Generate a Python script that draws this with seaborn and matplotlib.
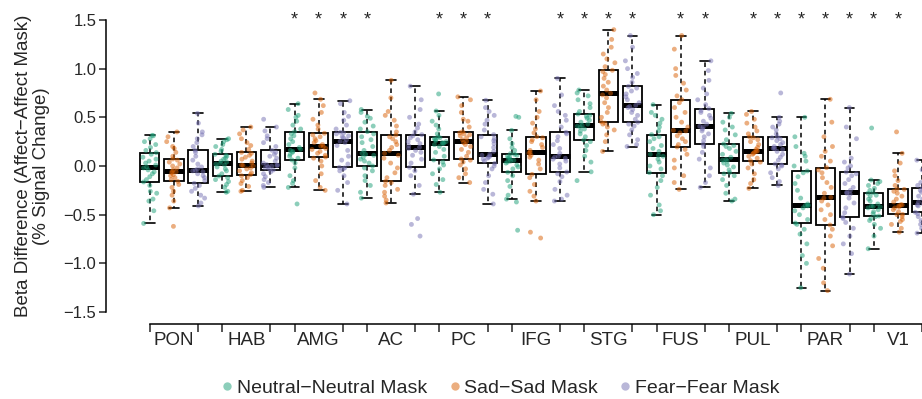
import numpy as np
import pandas as pd
import matplotlib
matplotlib.use("Agg")
import matplotlib.pyplot as plt
from matplotlib.lines import Line2D
from matplotlib.colors import to_rgba
import seaborn as sns

regions = ["PON", "HAB", "AMG", "AC", "PC", "IFG", "STG", "FUS", "PUL", "PAR", "V1"]
masks = ["Neutral−Neutral Mask", "Sad−Sad Mask", "Fear−Fear Mask"]
mask_colors = ["#1B9E77", "#D95F02", "#7570B3"]

# beta differences per subject (one list per region x mask)
pon_neutral = [-0.59, -0.46, -0.36, -0.34, -0.28, -0.26, -0.20, -0.164, -0.14, -0.11, -0.08, -0.06, -0.04, -0.02, -0.01,
               0.01, 0.03, 0.05, 0.07, 0.09, 0.12, 0.137, 0.16, 0.19, 0.22, 0.25, 0.28, 0.31, 0.315]
pon_sad = [-0.62, -0.43, -0.36, -0.30, -0.26, -0.22, -0.19, -0.158, -0.14, -0.12, -0.10, -0.09, -0.07, -0.06, -0.055,
           -0.04, -0.02, 0.00, 0.02, 0.04, 0.06, 0.072, 0.10, 0.14, 0.18, 0.20, 0.25, 0.30, 0.35]
pon_fear = [-0.41, -0.38, -0.33, -0.30, -0.26, -0.23, -0.20, -0.178, -0.15, -0.12, -0.10, -0.08, -0.06, -0.05, -0.045,
            -0.03, -0.01, 0.02, 0.06, 0.10, 0.14, 0.161, 0.20, 0.24, 0.28, 0.32, 0.35, 0.44, 0.54]
hab_neutral = [-0.27, -0.26, -0.22, -0.19, -0.16, -0.14, -0.12, -0.103, -0.08, -0.05, -0.03, -0.01, 0.01, 0.02, 0.027,
               0.04, 0.05, 0.07, 0.08, 0.10, 0.11, 0.12, 0.15, 0.17, 0.20, 0.22, 0.25, 0.27, 0.28]
hab_sad = [-0.26, -0.25, -0.21, -0.18, -0.15, -0.12, -0.10, -0.089, -0.07, -0.05, -0.03, -0.02, 0.00, 0.005, 0.01,
           0.03, 0.05, 0.07, 0.09, 0.11, 0.13, 0.14, 0.17, 0.21, 0.24, 0.28, 0.33, 0.37, 0.40]
hab_fear = [-0.22, -0.20, -0.17, -0.14, -0.11, -0.08, -0.06, -0.041, -0.03, -0.02, -0.01, 0.00, 0.005, 0.01, 0.014,
            0.03, 0.05, 0.08, 0.10, 0.12, 0.14, 0.161, 0.20, 0.24, 0.28, 0.31, 0.36, 0.40, 0.48]
amg_neutral = [-0.39, -0.22, -0.18, -0.15, -0.10, -0.02, 0.03, 0.062, 0.08, 0.10, 0.12, 0.14, 0.15, 0.16, 0.171,
               0.19, 0.22, 0.25, 0.28, 0.31, 0.33, 0.353, 0.38, 0.42, 0.46, 0.50, 0.52, 0.58, 0.64]
amg_sad = [-0.25, -0.22, -0.15, -0.08, 0.00, 0.05, 0.08, 0.092, 0.11, 0.13, 0.15, 0.17, 0.18, 0.20, 0.205,
           0.22, 0.24, 0.26, 0.28, 0.30, 0.32, 0.336, 0.38, 0.42, 0.48, 0.55, 0.62, 0.685, 0.75]
amg_fear = [-0.39, -0.25, -0.17, -0.10, -0.05, -0.03, -0.02, -0.014, 0.02, 0.06, 0.10, 0.16, 0.21, 0.24, 0.253,
            0.27, 0.29, 0.30, 0.31, 0.33, 0.34, 0.346, 0.38, 0.42, 0.47, 0.51, 0.55, 0.64, 0.67]
ac_neutral = [-0.33, -0.27, -0.20, -0.15, -0.10, -0.05, -0.02, 0.00, 0.03, 0.05, 0.07, 0.09, 0.11, 0.12, 0.13,
              0.16, 0.20, 0.24, 0.27, 0.30, 0.33, 0.353, 0.38, 0.41, 0.45, 0.49, 0.51, 0.55, 0.58]
ac_sad = [-0.38, -0.35, -0.31, -0.27, -0.24, -0.20, -0.17, -0.158, -0.12, -0.07, -0.02, 0.03, 0.08, 0.11, 0.13,
          0.16, 0.19, 0.22, 0.25, 0.28, 0.30, 0.318, 0.35, 0.41, 0.47, 0.52, 0.56, 0.70, 0.88]
ac_fear = [-0.72, -0.60, -0.54, -0.29, -0.20, -0.10, -0.05, -0.014, 0.03, 0.07, 0.11, 0.14, 0.16, 0.18, 0.192,
           0.21, 0.23, 0.25, 0.27, 0.29, 0.31, 0.322, 0.35, 0.39, 0.43, 0.50, 0.58, 0.68, 0.82]
pc_neutral = [-0.27, -0.19, -0.14, -0.08, -0.03, 0.01, 0.04, 0.062, 0.10, 0.14, 0.17, 0.20, 0.22, 0.23, 0.233,
              0.24, 0.25, 0.26, 0.27, 0.28, 0.29, 0.298, 0.33, 0.38, 0.42, 0.46, 0.52, 0.565, 0.74]
pc_sad = [-0.17, -0.12, -0.08, -0.03, 0.01, 0.04, 0.06, 0.072, 0.10, 0.14, 0.17, 0.20, 0.22, 0.24, 0.253,
          0.27, 0.29, 0.31, 0.32, 0.33, 0.34, 0.353, 0.40, 0.46, 0.48, 0.55, 0.62, 0.68, 0.71]
pc_fear = [-0.39, -0.29, -0.24, -0.17, -0.10, -0.03, 0.00, 0.027, 0.05, 0.07, 0.08, 0.09, 0.10, 0.11, 0.12,
           0.15, 0.19, 0.23, 0.26, 0.28, 0.30, 0.322, 0.37, 0.43, 0.47, 0.52, 0.56, 0.60, 0.675]
ifg_neutral = [-0.66, -0.37, -0.34, -0.30, -0.21, -0.15, -0.10, -0.065, -0.03, -0.01, 0.01, 0.03, 0.04, 0.05, 0.058,
               0.07, 0.08, 0.09, 0.10, 0.11, 0.12, 0.127, 0.16, 0.19, 0.23, 0.28, 0.366, 0.50, 0.51]
ifg_sad = [-0.74, -0.68, -0.36, -0.31, -0.26, -0.19, -0.12, -0.086, -0.03, 0.02, 0.06, 0.09, 0.11, 0.13, 0.14,
           0.16, 0.19, 0.22, 0.25, 0.27, 0.29, 0.301, 0.34, 0.38, 0.44, 0.50, 0.56, 0.68, 0.77]
ifg_fear = [-0.36, -0.34, -0.30, -0.24, -0.16, -0.11, -0.08, -0.062, -0.02, 0.02, 0.05, 0.07, 0.08, 0.09, 0.099,
            0.13, 0.18, 0.22, 0.26, 0.30, 0.33, 0.346, 0.40, 0.47, 0.52, 0.56, 0.62, 0.73, 0.90]
stg_neutral = [-0.15, -0.06, 0.04, 0.10, 0.16, 0.21, 0.25, 0.267, 0.30, 0.33, 0.36, 0.38, 0.40, 0.41, 0.418,
               0.43, 0.45, 0.47, 0.49, 0.51, 0.52, 0.534, 0.56, 0.60, 0.64, 0.68, 0.72, 0.75, 0.78]
stg_sad = [0.15, 0.25, 0.32, 0.37, 0.40, 0.43, 0.44, 0.455, 0.50, 0.55, 0.60, 0.65, 0.70, 0.73, 0.747,
           0.78, 0.82, 0.86, 0.90, 0.94, 0.97, 0.983, 1.02, 1.06, 1.10, 1.15, 1.22, 1.30, 1.40]
stg_fear = [0.20, 0.22, 0.27, 0.32, 0.37, 0.41, 0.43, 0.449, 0.48, 0.52, 0.55, 0.58, 0.60, 0.61, 0.623,
            0.65, 0.68, 0.71, 0.74, 0.77, 0.80, 0.818, 0.86, 0.91, 0.95, 1.00, 1.08, 1.22, 1.34]
fus_neutral = [-0.50, -0.46, -0.40, -0.30, -0.22, -0.15, -0.10, -0.068, -0.03, 0.00, 0.04, 0.07, 0.10, 0.11, 0.12,
               0.15, 0.18, 0.21, 0.25, 0.28, 0.30, 0.322, 0.36, 0.40, 0.44, 0.48, 0.52, 0.55, 0.63]
fus_sad = [-0.24, -0.17, -0.10, -0.02, 0.06, 0.12, 0.17, 0.195, 0.22, 0.25, 0.28, 0.31, 0.34, 0.36, 0.366,
           0.40, 0.45, 0.50, 0.55, 0.60, 0.65, 0.682, 0.72, 0.78, 0.85, 0.93, 1.00, 1.20, 1.34]
fus_fear = [-0.22, -0.17, -0.10, -0.02, 0.07, 0.14, 0.20, 0.226, 0.26, 0.30, 0.33, 0.36, 0.38, 0.40, 0.408,
            0.43, 0.46, 0.49, 0.52, 0.55, 0.57, 0.589, 0.63, 0.68, 0.74, 0.80, 0.88, 0.98, 1.08]
pul_neutral = [-0.36, -0.34, -0.28, -0.20, -0.14, -0.10, -0.08, -0.068, -0.04, -0.01, 0.01, 0.03, 0.05, 0.06, 0.068,
               0.09, 0.12, 0.15, 0.18, 0.20, 0.21, 0.226, 0.27, 0.32, 0.37, 0.40, 0.45, 0.50, 0.54]
pul_sad = [-0.23, -0.18, -0.14, -0.08, -0.02, 0.02, 0.04, 0.055, 0.08, 0.10, 0.12, 0.13, 0.14, 0.15, 0.154,
           0.17, 0.19, 0.22, 0.25, 0.27, 0.29, 0.298, 0.33, 0.36, 0.40, 0.44, 0.48, 0.53, 0.56]
pul_fear = [-0.20, -0.16, -0.12, -0.07, -0.03, 0.00, 0.01, 0.021, 0.06, 0.09, 0.12, 0.15, 0.17, 0.18, 0.182,
            0.20, 0.22, 0.24, 0.26, 0.28, 0.29, 0.301, 0.33, 0.37, 0.40, 0.43, 0.46, 0.50, 0.75]
par_neutral = [-1.25, -1.00, -0.92, -0.80, -0.70, -0.65, -0.60, -0.586, -0.55, -0.50, -0.46, -0.43, -0.41, -0.405, -0.404,
               -0.39, -0.33, -0.25, -0.18, -0.11, -0.07, -0.051, 0.00, 0.05, 0.10, 0.13, 0.20, 0.30, 0.50]
par_sad = [-1.28, -1.20, -1.05, -0.95, -0.82, -0.72, -0.65, -0.606, -0.55, -0.50, -0.45, -0.40, -0.36, -0.33, -0.322,
           -0.28, -0.22, -0.17, -0.12, -0.07, -0.04, -0.017, 0.05, 0.10, 0.15, 0.20, 0.30, 0.45, 0.685]
par_fear = [-1.11, -0.90, -0.80, -0.72, -0.64, -0.58, -0.54, -0.524, -0.48, -0.43, -0.38, -0.33, -0.29, -0.28, -0.271,
            -0.25, -0.22, -0.18, -0.14, -0.10, -0.08, -0.062, -0.02, 0.00, 0.04, 0.08, 0.28, 0.40, 0.60]
v1_neutral = [-0.85, -0.72, -0.64, -0.60, -0.56, -0.54, -0.52, -0.514, -0.49, -0.47, -0.45, -0.43, -0.42, -0.415, -0.411,
              -0.39, -0.36, -0.34, -0.31, -0.30, -0.28, -0.274, -0.25, -0.23, -0.20, -0.18, -0.16, -0.144, 0.39]
v1_sad = [-0.68, -0.64, -0.60, -0.57, -0.55, -0.52, -0.50, -0.497, -0.47, -0.45, -0.43, -0.42, -0.41, -0.40, -0.397,
          -0.37, -0.34, -0.31, -0.28, -0.26, -0.24, -0.236, -0.20, -0.15, -0.10, -0.05, 0.03, 0.13, 0.35]
v1_fear = [-0.69, -0.64, -0.60, -0.56, -0.52, -0.50, -0.49, -0.476, -0.45, -0.43, -0.41, -0.40, -0.39, -0.38, -0.37,
           -0.34, -0.31, -0.29, -0.27, -0.25, -0.23, -0.223, -0.20, -0.17, -0.13, -0.09, -0.04, 0.01, 0.06]

# regions marked significant (asterisk) for each mask
sig_neutral = ["AMG", "AC", "PC", "STG", "PAR", "V1"]
sig_sad = ["AMG", "PC", "STG", "FUS", "PUL", "PAR", "V1"]
sig_fear = ["AMG", "PC", "IFG", "STG", "FUS", "PUL", "PAR"]

box_values = [pon_neutral, pon_sad, pon_fear, hab_neutral, hab_sad, hab_fear,
              amg_neutral, amg_sad, amg_fear, ac_neutral, ac_sad, ac_fear,
              pc_neutral, pc_sad, pc_fear, ifg_neutral, ifg_sad, ifg_fear,
              stg_neutral, stg_sad, stg_fear, fus_neutral, fus_sad, fus_fear,
              pul_neutral, pul_sad, pul_fear, par_neutral, par_sad, par_fear,
              v1_neutral, v1_sad, v1_fear]

rows = []
for k, vals in enumerate(box_values):
    region = regions[k // 3]
    for v in vals:
        rows.append((f"{region} {k % 3}", masks[k % 3], v))
df = pd.DataFrame(rows, columns=["box", "mask", "value"])
box_order = [f"{r} {m}" for r in regions for m in range(3)]

sns.set_style("ticks")
plt.rcParams["font.family"] = ["Liberation Sans", "DejaVu Sans"]
np.random.seed(7)

fig = plt.figure(figsize=(9.22, 3.99), dpi=100)
ax = fig.add_axes([106 / 922, 0.1887, 816 / 922, 0.7906])

sns.boxplot(data=df, x="box", y="value", order=box_order, color="white", linecolor="black",
            width=0.8, whis=1.5, showfliers=False, linewidth=1.3,
            medianprops={"linewidth": 3.6, "color": "black", "solid_capstyle": "butt"},
            whiskerprops={"linestyle": (0, (3, 2.5)), "linewidth": 1.1},
            capprops={"linewidth": 1.2}, ax=ax)

pal = {m: to_rgba(c, 0.5) for m, c in zip(masks, mask_colors)}
sns.stripplot(data=df, x="box", y="value", order=box_order, hue="mask", hue_order=masks,
              palette=pal, dodge=False, jitter=0.3, size=3.5, linewidth=0,
              legend=False, zorder=3, ax=ax)

# significance stars
for sig, m in zip([sig_neutral, sig_sad, sig_fear], range(3)):
    for r in sig:
        ax.text(box_order.index(f"{r} {m}"), 1.455, "*", ha="center", va="baseline",
                fontsize=13, clip_on=False)

ax.set_xlim(-1.814, 31.835)
ax.set_ylim(-1.62, 1.62)

edge_ticks = [i for g in range(len(regions)) for i in (3 * g, 3 * g + 2)]
ax.set_xticks(edge_ticks)
ax.set_xticklabels([])
ax.set_xticks([3 * g + 1 for g in range(len(regions))], minor=True)
ax.set_xticklabels(regions, minor=True, fontsize=13.5)
ax.tick_params(axis="x", which="major", length=6, width=1.1, direction="out")
ax.tick_params(axis="x", which="minor", length=0, pad=6)

yt = [1.5, 1.0, 0.5, 0.0, -0.5, -1.0, -1.5]
ax.set_yticks(yt)
ax.set_yticklabels([f"{v:.1f}".replace("-", "−") for v in yt], fontsize=12)
ax.tick_params(axis="y", length=5, width=1.1, pad=2)

ax.spines["top"].set_visible(False)
ax.spines["right"].set_visible(False)
ax.spines["left"].set_bounds(-1.5, 1.5)
ax.spines["bottom"].set_bounds(0, len(box_order) - 1)
for s in ("left", "bottom"):
    ax.spines[s].set_linewidth(1.1)
    ax.spines[s].set_color("black")

ax.set_xlabel("")
ax.set_ylabel("Beta Difference (Affect−Affect Mask)\n(% Signal Change)", fontsize=13.5,
              linespacing=1.1)
ax.yaxis.set_label_coords(-0.0686, 0.5)

handles = [Line2D([], [], marker="o", linestyle="", markersize=6, markeredgewidth=0,
                  markerfacecolor=pal[m]) for m in masks]
fig.legend(handles, masks, loc="center", bbox_to_anchor=(501 / 922, 11 / 399), ncol=3,
           frameon=False, fontsize=14, handlelength=0.5, handletextpad=0.25,
           columnspacing=1.15, borderpad=0)

fig.savefig("out.png", dpi=100)
